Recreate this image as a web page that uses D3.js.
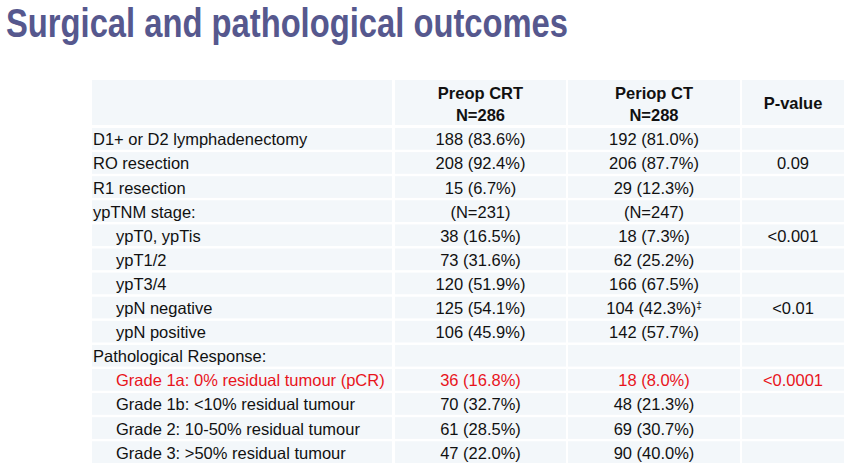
<!DOCTYPE html>
<html><head><meta charset="utf-8">
<script src="https://cdn.jsdelivr.net/npm/d3@7"></script>
<style>body{margin:0;background:#fff;}svg{display:block;font-family:"Liberation Sans",Arial,sans-serif;}</style>
</head><body>
<svg id="c" width="850" height="468"></svg>
<script>
const title = "Surgical and pathological outcomes";
const headers = [["", ""], ["Preop CRT", "N=286"], ["Periop CT", "N=288"], ["P-value"]];
const rowLabels = [
  "D1+ or D2 lymphadenectomy", "RO resection", "R1 resection", "ypTNM stage:",
  "ypT0, ypTis", "ypT1/2", "ypT3/4", "ypN negative", "ypN positive",
  "Pathological Response:", "Grade 1a: 0% residual tumour (pCR)",
  "Grade 1b: <10% residual tumour", "Grade 2: 10-50% residual tumour", "Grade 3: >50% residual tumour"
];
const indented = [0,0,0,0,1,1,1,1,1,0,1,1,1,1];
const highlighted = [0,0,0,0,0,0,0,0,0,0,1,0,0,0];
const preopCRT = ["188 (83.6%)","208 (92.4%)","15 (6.7%)","(N=231)","38 (16.5%)","73 (31.6%)","120 (51.9%)","125 (54.1%)","106 (45.9%)","","36 (16.8%)","70 (32.7%)","61 (28.5%)","47 (22.0%)"];
const periopCT = ["192 (81.0%)","206 (87.7%)","29 (12.3%)","(N=247)","18 (7.3%)","62 (25.2%)","166 (67.5%)","104 (42.3%)‡","142 (57.7%)","","18 (8.0%)","48 (21.3%)","69 (30.7%)","90 (40.0%)"];
const pValues = ["","0.09","","","<0.001","","","<0.01","","","<0.0001","","",""];

const svg = d3.select("#c");
const cellFill = "#f3f7fa", red = "#e8141c", ink = "#111";
const fs = 16.5;

svg.append("text").attr("x", 6).attr("y", 37).attr("font-size", 41).attr("font-weight", "bold")
  .attr("fill", "#56588e").attr("textLength", 562).attr("lengthAdjust", "spacingAndGlyphs").text(title);

const colEdges = [[92,392],[395,566],[568,740],[742,844]];
const x = d3.scaleOrdinal().domain([0,1,2,3]).range(colEdges);
const y = d3.scaleBand().domain(d3.range(rowLabels.length)).range([128, 463]).paddingInner(0.1).paddingOuter(0);

// header
const hTop = 80, hBot = 125;
headers.forEach((h, i) => {
  const [x0, x1] = x(i);
  svg.append("rect").attr("x", x0).attr("y", hTop).attr("width", x1 - x0).attr("height", hBot - hTop).attr("fill", cellFill);
  const cx = (x0 + x1) / 2;
  if (h.length === 2 && h[0]) {
    svg.append("text").attr("x", cx).attr("y", 99).attr("text-anchor", "middle").attr("font-size", fs).attr("font-weight", "bold").attr("fill", ink).text(h[0]);
    svg.append("text").attr("x", cx).attr("y", 121).attr("text-anchor", "middle").attr("font-size", fs).attr("font-weight", "bold").attr("fill", ink).text(h[1]);
  } else if (h.length === 1) {
    svg.append("text").attr("x", cx).attr("y", 109).attr("text-anchor", "middle").attr("font-size", fs).attr("font-weight", "bold").attr("fill", ink).text(h[0]);
  }
});

const cols = [rowLabels, preopCRT, periopCT, pValues];
rowLabels.forEach((_, r) => {
  const y0 = y(r), bh = y.bandwidth();
  const color = highlighted[r] ? red : ink;
  cols.forEach((col, c) => {
    const [x0, x1] = x(c);
    svg.append("rect").attr("x", x0).attr("y", y0).attr("width", x1 - x0).attr("height", bh).attr("fill", cellFill);
    const t = svg.append("text").attr("y", y0 + bh / 2 + 6.5).attr("font-size", fs).attr("fill", color);
    if (c === 0) t.attr("x", x0 + 1 + (indented[r] ? 23 : 0)).text(col[r]);
    else {
      const v = col[r];
      t.attr("x", (x0 + x1) / 2).attr("text-anchor", "middle");
      if (v.endsWith("‡")) {
        t.text(v.slice(0, -1));
        t.append("tspan").attr("font-size", 10).attr("dy", -5).text("‡");
      } else t.text(v);
    }
  });
});
</script>
</body></html>
